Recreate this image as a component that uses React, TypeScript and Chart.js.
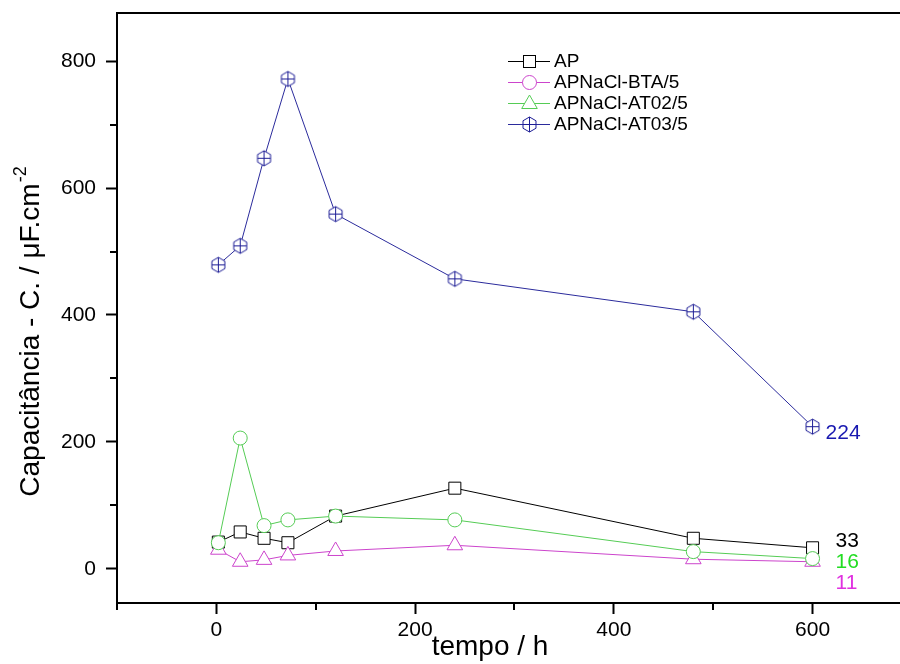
import React, { useEffect, useRef } from 'react';
import { Chart, registerables } from 'chart.js';

Chart.register(...registerables);

const hours = [2, 24, 48, 72, 120, 240, 480, 600];
const apValues = [42, 58, 48, 41, 83, 127, 48, 33];
const btaValues = [30, 11, 14, 21, 28, 37, 15, 11];
const at02Values = [41, 206, 68, 77, 83, 77, 27, 16];
const at03Values = [479, 509, 647, 772, 559, 457, 405, 224];
const seriesNames = ['AP', 'APNaCl-BTA/5', 'APNaCl-AT02/5', 'APNaCl-AT03/5'];
const xMajorTicks = [0, 200, 400, 600];
const xMinorTicks = [-100, 100, 300, 500];
const yMajorTicks = [0, 200, 400, 600, 800];
const yMinorTicks = [100, 300, 500, 700];
const xTitle = 'tempo / h';
const yTitle = 'Capacitância - C. / μF.cm';
const yTitleSup = '-2';

const FONT = '"Liberation Sans", Arial, Helvetica, sans-serif';
const BLACK = '#000000';
const MAGENTA = '#cc44cc';
const MAGENTA_TEXT = '#e030e0';
const GREEN = '#55cc55';
const GREEN_TEXT = '#22dd22';
const BLUE_LINE = '#2b2b9c';
const BLUE_MARK = '#1e1e96';
const BLUE_TEXT = '#1818b0';

function makeHexCross(color: string, r: number): HTMLCanvasElement {
  const size = 19;
  const c = document.createElement('canvas');
  c.width = size;
  c.height = size;
  const ctx = c.getContext('2d')!;
  const cx = size / 2;
  const cy = size / 2;
  ctx.fillStyle = '#ffffff';
  ctx.strokeStyle = color;
  ctx.lineWidth = 1;
  ctx.beginPath();
  for (let i = 0; i < 6; i++) {
    const a = (-90 + 60 * i) * Math.PI / 180;
    const px = cx + r * Math.cos(a);
    const py = cy + r * Math.sin(a);
    if (i === 0) ctx.moveTo(px, py); else ctx.lineTo(px, py);
  }
  ctx.closePath();
  ctx.fill();
  ctx.stroke();
  ctx.beginPath();
  ctx.moveTo(cx, cy - r);
  ctx.lineTo(cx, cy + r);
  const hw = r * Math.cos(Math.PI / 6);
  ctx.moveTo(cx - hw, cy);
  ctx.lineTo(cx + hw, cy);
  ctx.stroke();
  return c;
}

function legendSquare(ctx: CanvasRenderingContext2D, x: number, y: number, color: string) {
  ctx.fillStyle = '#fff';
  ctx.strokeStyle = color;
  ctx.lineWidth = 1;
  ctx.fillRect(x - 6, y - 6, 12, 12);
  ctx.strokeRect(x - 6, y - 6, 12, 12);
}
function legendCircle(ctx: CanvasRenderingContext2D, x: number, y: number, color: string) {
  ctx.fillStyle = '#fff';
  ctx.strokeStyle = color;
  ctx.lineWidth = 1;
  ctx.beginPath();
  ctx.arc(x, y, 7, 0, Math.PI * 2);
  ctx.fill();
  ctx.stroke();
}
function legendTriangle(ctx: CanvasRenderingContext2D, x: number, y: number, color: string) {
  const r = 9;
  ctx.fillStyle = '#fff';
  ctx.strokeStyle = color;
  ctx.lineWidth = 1;
  ctx.beginPath();
  ctx.moveTo(x, y - r);
  ctx.lineTo(x + r * Math.cos(Math.PI / 6), y + r / 2);
  ctx.lineTo(x - r * Math.cos(Math.PI / 6), y + r / 2);
  ctx.closePath();
  ctx.fill();
  ctx.stroke();
}

function zeroPadding(s: any) {
  s.paddingTop = 0;
  s.paddingBottom = 0;
  s.paddingLeft = 0;
  s.paddingRight = 0;
}

export default function App() {
  const ref = useRef<HTMLCanvasElement>(null);

  useEffect(() => {
    document.body.style.margin = '0';
    const canvas = ref.current!;
    const hex = makeHexCross(BLUE_MARK, 7.5);
    const mk = (vals: number[]) => hours.map((h, i) => ({ x: h, y: vals[i] }));

    const endLabels = [
      { vals: at03Values, color: BLUE_TEXT, dx: 13, dy: 7 },
      { vals: apValues, color: BLACK, dx: 23, dy: -7 },
      { vals: at02Values, color: GREEN_TEXT, dx: 23, dy: 4 },
      { vals: btaValues, color: MAGENTA_TEXT, dx: 23, dy: 21 },
    ];

    const legendItems = [
      { name: seriesNames[0], color: BLACK, kind: 'square' },
      { name: seriesNames[1], color: MAGENTA, kind: 'circle' },
      { name: seriesNames[2], color: GREEN, kind: 'triangle' },
      { name: seriesNames[3], color: BLUE_LINE, kind: 'hex' },
    ];

    const decor = {
      id: 'decor',
      afterDraw(chart: any) {
        const { ctx, chartArea: a, scales } = chart;
        const xs = scales.x;
        const ys = scales.y;
        ctx.save();
        ctx.strokeStyle = '#000';
        ctx.lineWidth = 2;
        ctx.beginPath();
        ctx.moveTo(a.left - 1, a.top);
        ctx.lineTo(a.right, a.top);
        ctx.stroke();
        ctx.beginPath();
        xMinorTicks.forEach((v) => {
          const px = Math.round(xs.getPixelForValue(v));
          ctx.moveTo(px, a.bottom);
          ctx.lineTo(px, a.bottom + 7);
        });
        yMinorTicks.forEach((v) => {
          const py = Math.round(ys.getPixelForValue(v));
          ctx.moveTo(a.left, py);
          ctx.lineTo(a.left - 7, py);
        });
        ctx.stroke();

        // x title
        ctx.fillStyle = '#000';
        ctx.font = `28px ${FONT}`;
        ctx.textAlign = 'center';
        ctx.textBaseline = 'alphabetic';
        ctx.fillText(xTitle, 490, 655);

        // y title
        ctx.save();
        ctx.translate(39, 332);
        ctx.rotate(-Math.PI / 2);
        ctx.font = `28px ${FONT}`;
        const w1 = ctx.measureText(yTitle).width;
        ctx.font = `18px ${FONT}`;
        const w2 = ctx.measureText(yTitleSup).width;
        const start = -(w1 + w2) / 2;
        ctx.textAlign = 'left';
        ctx.font = `28px ${FONT}`;
        ctx.fillText(yTitle, start, 0);
        ctx.font = `18px ${FONT}`;
        ctx.fillText(yTitleSup, start + w1 + 1, -13);
        ctx.restore();

        // end labels
        ctx.font = `21px ${FONT}`;
        ctx.textAlign = 'left';
        ctx.textBaseline = 'middle';
        const lastHour = hours[hours.length - 1];
        endLabels.forEach((l) => {
          const v = l.vals[l.vals.length - 1];
          ctx.fillStyle = l.color;
          ctx.fillText(String(v), xs.getPixelForValue(lastHour) + l.dx, ys.getPixelForValue(v) + l.dy);
        });

        // legend
        ctx.font = `19px ${FONT}`;
        legendItems.forEach((it, i) => {
          const y = 61 + i * 21;
          ctx.strokeStyle = it.color;
          ctx.lineWidth = 1;
          ctx.beginPath();
          ctx.moveTo(508, y + 0.5);
          ctx.lineTo(550, y + 0.5);
          ctx.stroke();
          if (it.kind === 'square') legendSquare(ctx, 529.5, y + 0.5, it.color);
          else if (it.kind === 'circle') legendCircle(ctx, 529.5, y + 0.5, it.color);
          else if (it.kind === 'triangle') legendTriangle(ctx, 529.5, y + 1, it.color);
          else ctx.drawImage(hex, 529.5 - hex.width / 2, y + 0.5 - hex.height / 2);
          ctx.fillStyle = '#000';
          ctx.fillText(it.name, 554, y + 1);
        });
        ctx.restore();
      },
    };

    const axisCommon = {
      type: 'linear' as const,
      grid: {
        display: true,
        drawOnChartArea: false,
        drawTicks: true,
        tickLength: 11,
        tickColor: '#000',
        tickWidth: 2,
      },
      border: { display: true, color: '#000', width: 2 },
    };

    const chart = new Chart(canvas, {
      type: 'line',
      data: {
        datasets: [
          {
            label: seriesNames[3], data: mk(at03Values), borderColor: BLUE_LINE, backgroundColor: '#fff',
            borderWidth: 1, pointStyle: hex as any, pointRadius: 8, order: 0, tension: 0,
          },
          {
            label: seriesNames[2], data: mk(at02Values), borderColor: GREEN, backgroundColor: '#fff',
            borderWidth: 1, pointStyle: 'circle', pointRadius: 7, pointBorderWidth: 1, order: 1, tension: 0,
          },
          {
            label: seriesNames[1], data: mk(btaValues), borderColor: MAGENTA, backgroundColor: '#fff',
            borderWidth: 1, pointStyle: 'triangle', pointRadius: 9, pointBorderWidth: 1, order: 2, tension: 0,
          },
          {
            label: seriesNames[0], data: mk(apValues), borderColor: BLACK, backgroundColor: '#fff',
            borderWidth: 1, pointStyle: 'rect', pointRadius: 8.5, pointBorderWidth: 1, order: 3, tension: 0,
          },
        ],
      },
      options: {
        animation: false,
        responsive: false,
        devicePixelRatio: 1,
        events: [],
        layout: { autoPadding: false, padding: { top: 13, left: 0, right: 0, bottom: 0 } },
        plugins: { legend: { display: false }, tooltip: { enabled: false }, title: { display: false } },
        scales: {
          x: {
            ...axisCommon,
            position: 'bottom',
            min: -100,
            max: 688,
            afterFit: (s: any) => { s.height = 61; zeroPadding(s); },
            afterBuildTicks: (s: any) => { s.ticks = xMajorTicks.map((v) => ({ value: v })); },
            ticks: { padding: 4, color: '#000', font: { family: FONT, size: 21 }, maxRotation: 0, autoSkip: false },
          },
          y: {
            ...axisCommon,
            position: 'left',
            min: -54,
            max: 876,
            afterFit: (s: any) => { s.width = 117; zeroPadding(s); },
            afterBuildTicks: (s: any) => { s.ticks = yMajorTicks.map((v) => ({ value: v })); },
            ticks: { padding: 10, color: '#000', font: { family: FONT, size: 21 }, autoSkip: false },
          },
        },
      } as any,
      plugins: [decor],
    });

    return () => chart.destroy();
  }, []);

  return <canvas ref={ref} width={900} height={664} style={{ display: 'block' }} />;
}
